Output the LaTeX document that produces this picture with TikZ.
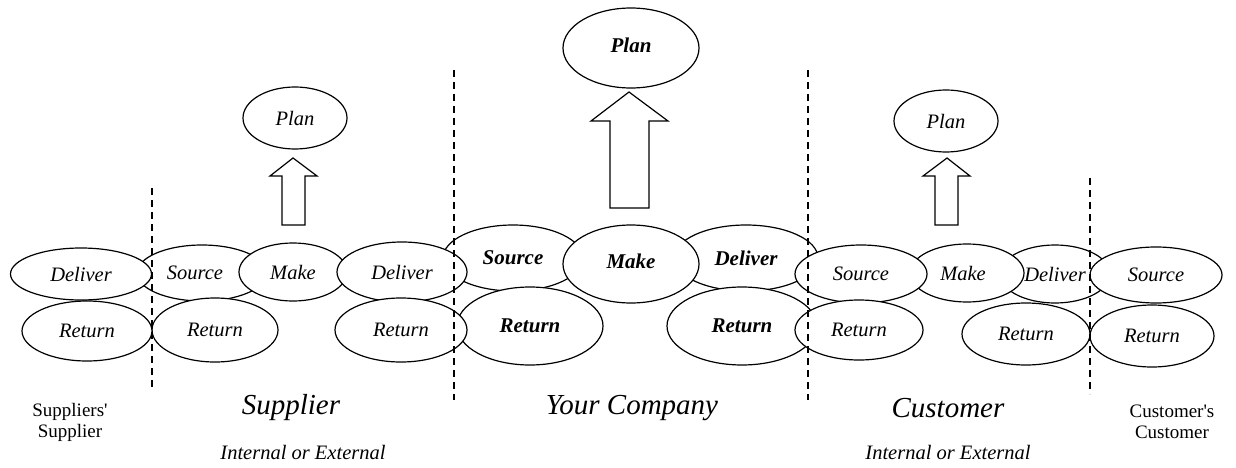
\documentclass[tikz,border=0pt]{standalone}
\usepackage{fontspec}
\setmainfont{Liberation Serif}
\newfontfamily\plainserif{Liberation Serif}[Ligatures=TeXOff]
\usetikzlibrary{shapes.geometric}
\begin{document}
\begin{tikzpicture}[x=1pt,y=-1pt,
  el/.style={draw,fill=white,ellipse,inner sep=0pt,line width=1.2pt,font=\fontsize{20.5}{22}\selectfont\itshape},
  elb/.style={el,font=\fontsize{21}{22}\selectfont\bfseries\itshape},
  sep/.style={line width=1.5pt,dash pattern=on 7pt off 5pt},
  blk/.style={draw,fill=white,line width=1.2pt,line join=miter},
  sect/.style={font=\fontsize{29}{32}\selectfont\itshape},
  sub/.style={font=\fontsize{20.5}{22}\selectfont\itshape},
  side/.style={font=\plainserif\fontsize{19}{21}\selectfont,align=center}]
\useasboundingbox (0,0) rectangle (1236,468);
% Your Company
\node[elb,minimum width=140pt,minimum height=66pt] (cS) at (513,258) {Source};
\node[elb,minimum width=144pt,minimum height=66pt] (cD) at (746,258) {Deliver};
\node[elb,minimum width=146pt,minimum height=78pt] (cRL) at (530,326) {Return};
\node[elb,minimum width=150pt,minimum height=78pt] (cRR) at (742,326) {Return};
\node[elb,minimum width=136pt,minimum height=78pt] (cM) at (631,264) {\raisebox{6pt}{Make}};
\node[elb,minimum width=136pt,minimum height=80pt] (cP) at (631,48) {\raisebox{6pt}{Plan}};
\draw[blk] (629,92) -- (668,121) -- (649,121) -- (649,208) -- (610,208) -- (610,121) -- (591,121) -- cycle;
% Supplier
\node[el,minimum width=130pt,minimum height=56pt] (sS) at (202,273) {\hspace*{-14pt}Source};
\node[el,minimum width=126pt,minimum height=64pt] (sR) at (215,330) {Return};
\node[el,minimum width=108pt,minimum height=58pt] (sM) at (293,272) {Make};
\node[el,minimum width=130pt,minimum height=60pt] (sD) at (402,272) {Deliver};
\node[el,minimum width=132pt,minimum height=64pt] (sR2) at (401,330) {Return};
\node[el,minimum width=104pt,minimum height=62pt] (sP) at (295,118) {Plan};
\draw[blk] (293,158) -- (317,176) -- (305,176) -- (305,225) -- (282,225) -- (282,176) -- (270,176) -- cycle;
% Suppliers' Supplier
\node[el,minimum width=141pt,minimum height=52pt] (ssD) at (81,274) {Deliver};
\node[el,minimum width=130pt,minimum height=60pt] (ssR) at (87,331) {Return};
% Customer
\node[el,minimum width=110pt,minimum height=58pt] (uD) at (1055,274) {Deliver};
\node[el,minimum width=114pt,minimum height=58pt] (uM) at (967,273) {\hspace*{-8pt}Make};
\node[el,minimum width=132pt,minimum height=58pt] (uS) at (861,274) {Source};
\node[el,minimum width=128pt,minimum height=60pt] (uR) at (859,330) {Return};
\node[el,minimum width=128pt,minimum height=62pt] (uR2) at (1026,334) {Return};
\node[el,minimum width=104pt,minimum height=62pt] (uP) at (946,121) {Plan};
\draw[blk] (947,158) -- (970,176) -- (958,176) -- (958,225) -- (935,225) -- (935,176) -- (923,176) -- cycle;
% Customer's Customer
\node[el,minimum width=132pt,minimum height=56pt] (ccS) at (1156,275) {Source};
\node[el,minimum width=124pt,minimum height=62pt] (ccR) at (1152,336) {Return};
% separators
\coordinate (d1a) at (152,188); \coordinate (d1b) at (152,390);
\coordinate (d2a) at (454,70);  \coordinate (d2b) at (454,400);
\coordinate (d3a) at (808,70);  \coordinate (d3b) at (808,400);
\coordinate (d4a) at (1090,178); \coordinate (d4b) at (1090,394);
\draw[sep] (d1a) -- (d1b);
\draw[sep] (d2a) -- (d2b);
\draw[sep] (d3a) -- (d3b);
\draw[sep] (d4a) -- (d4b);
% labels
\node[side] (lss) at (70,422) {Suppliers'\\Supplier};
\node[sect] (lsup) at (291,408) {Supplier};
\node[sect] (lyc) at (632,408) {Your Company};
\node[sect] (lcus) at (948,408) {Customer};
\node[side] (lcc) at (1172,422) {Customer's\\Customer};
\node[sub] (li1) at (303,452) {Internal or External};
\node[sub] (li2) at (948,452) {Internal or External};
\end{tikzpicture}
\end{document}
